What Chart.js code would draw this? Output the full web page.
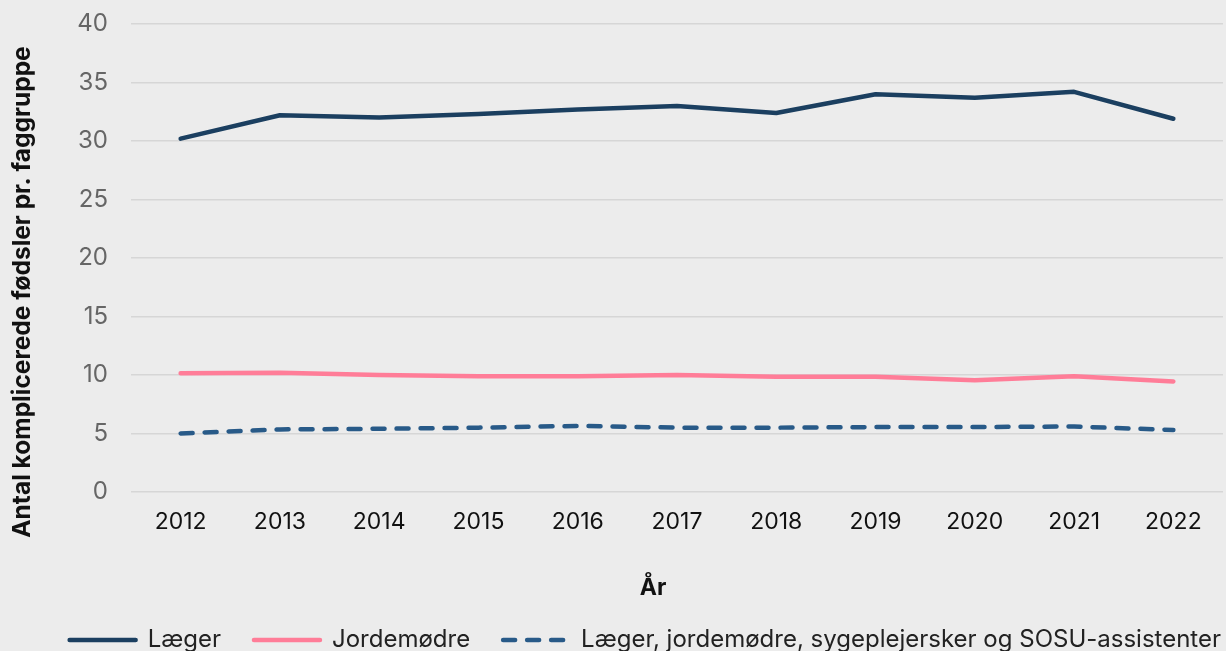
<!DOCTYPE html>
<html>
<head>
<meta charset="utf-8">
<script src="https://cdn.jsdelivr.net/npm/chart.js@4/dist/chart.umd.min.js"></script>
<style>
  html, body { margin: 0; padding: 0; background: #ececec; }
  #wrap { width: 1226px; height: 651px; }
</style>
</head>
<body>
<div id="wrap"><canvas id="c" width="1226" height="651"></canvas></div>
<script>
const years = ['2012','2013','2014','2015','2016','2017','2018','2019','2020','2021','2022'];
const laeger = [30.2, 32.2, 32.0, 32.3, 32.7, 33.0, 32.4, 34.0, 33.7, 34.2, 31.9];
const jordemoedre = [10.15, 10.2, 10.0, 9.9, 9.9, 10.0, 9.85, 9.85, 9.55, 9.9, 9.45];
const alleFaggrupper = [5.0, 5.35, 5.4, 5.5, 5.65, 5.5, 5.5, 5.55, 5.55, 5.6, 5.3];
const seriesNames = ['Læger', 'Jordemødre', 'Læger, jordemødre, sygeplejersker og SOSU-assistenter'];
const yTitle = 'Antal komplicerede fødsler pr. faggruppe';
const xTitle = 'År';

const FONT = 'Inter, "Noto Sans", sans-serif';

const bgPlugin = {
  id: 'bg',
  beforeDraw(chart) {
    const ctx = chart.ctx;
    ctx.save();
    ctx.fillStyle = '#ececec';
    ctx.fillRect(0, 0, chart.width, chart.height);
    ctx.restore();
  }
};

const legendShift = {
  id: 'legendShift',
  afterLayout(chart) {
    if (chart.legend) {
      chart.legend.left += 31;
      chart.legend.right += 31;
    }
  }
};

const titlesPlugin = {
  id: 'axisTitles',
  afterDraw(chart) {
    const ctx = chart.ctx;
    ctx.save();
    ctx.fillStyle = '#111';
    ctx.textAlign = 'center';
    ctx.textBaseline = 'middle';
    ctx.font = 'bold 23px ' + FONT;
    ctx.fillText(xTitle, 653, 588);
    ctx.font = 'bold 24.5px ' + FONT;
    ctx.translate(23, 292);
    ctx.rotate(-Math.PI / 2);
    ctx.fillText(yTitle, 0, 0);
    ctx.restore();
  }
};

new Chart(document.getElementById('c'), {
  type: 'line',
  data: {
    labels: years,
    datasets: [
      {
        label: seriesNames[0],
        data: laeger,
        borderColor: '#1b3f60',
        backgroundColor: '#1b3f60',
        borderWidth: 4.5,
        borderCapStyle: 'round',
        borderJoinStyle: 'round',
        pointRadius: 0,
        tension: 0
      },
      {
        label: seriesNames[1],
        data: jordemoedre,
        borderColor: '#ff7d98',
        backgroundColor: '#ff7d98',
        borderWidth: 4.5,
        borderCapStyle: 'round',
        borderJoinStyle: 'round',
        pointRadius: 0,
        tension: 0
      },
      {
        label: seriesNames[2],
        data: alleFaggrupper,
        borderColor: '#285a88',
        backgroundColor: '#285a88',
        borderWidth: 4.5,
        borderDash: [12, 12],
        borderCapStyle: 'round',
        borderJoinStyle: 'round',
        pointRadius: 0,
        tension: 0
      }
    ]
  },
  options: {
    responsive: false,
    animation: false,
    devicePixelRatio: 1,
    layout: { padding: { left: 0, top: 24, right: 3, bottom: -11 } },
    plugins: {
      legend: {
        position: 'bottom',
        align: 'end',
        labels: {
          boxWidth: 66,
          boxHeight: 0,
          color: '#222',
          font: { family: FONT, size: 24 },
          padding: 33
        }
      },
      tooltip: { enabled: false },
      title: { display: false }
    },
    scales: {
      x: {
        offset: true,
        grid: { display: false, drawTicks: false },
        border: { display: false },
        ticks: { color: '#111', font: { family: FONT, size: 23 }, padding: 16, maxRotation: 0 },
        afterFit(s) { s.height = 103; }
      },
      y: {
        min: 0, max: 40,
        grid: { color: '#d6d6d6', lineWidth: 1.5, drawTicks: true, tickLength: 23, tickColor: 'rgba(0,0,0,0)' },
        border: { display: false },
        ticks: { stepSize: 5, color: '#666', font: { family: FONT, size: 24 }, padding: 0 },
        afterFit(s) { s.width = 131; }
      }
    }
  },
  plugins: [bgPlugin, legendShift, titlesPlugin]
});
</script>
</body>
</html>
